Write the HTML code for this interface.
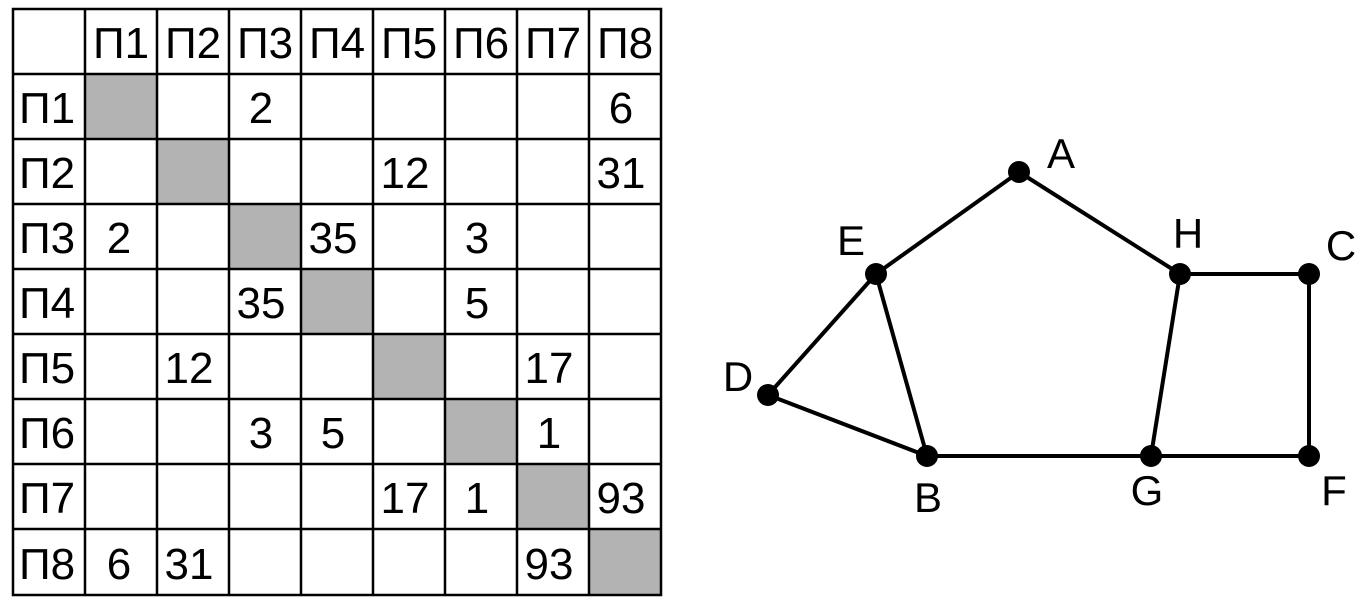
<!DOCTYPE html>
<html><head><meta charset="utf-8"><style>
html,body{margin:0;padding:0;background:#fff;}
body{width:1372px;height:610px;position:relative;overflow:hidden;font-family:"Liberation Sans",sans-serif;}
</style></head><body>
<svg width="1372" height="610" xmlns="http://www.w3.org/2000/svg" style="position:absolute;left:0;top:0">
<g fill="#b3b3b3">
<rect x="85" y="74" width="72" height="65"/>
<rect x="157" y="139" width="72" height="65"/>
<rect x="229" y="204" width="72" height="65"/>
<rect x="301" y="269" width="72" height="65"/>
<rect x="373" y="334" width="72" height="65"/>
<rect x="445" y="399" width="72" height="65"/>
<rect x="517" y="464" width="72" height="65"/>
<rect x="589" y="529" width="72" height="66"/>
</g>
<g stroke="#000" stroke-width="2.5" fill="none">
<rect x="13" y="9" width="648" height="586"/>
<line x1="85" y1="9" x2="85" y2="595"/><line x1="157" y1="9" x2="157" y2="595"/>
<line x1="229" y1="9" x2="229" y2="595"/><line x1="301" y1="9" x2="301" y2="595"/>
<line x1="373" y1="9" x2="373" y2="595"/><line x1="445" y1="9" x2="445" y2="595"/>
<line x1="517" y1="9" x2="517" y2="595"/><line x1="589" y1="9" x2="589" y2="595"/>
<line x1="13" y1="74" x2="661" y2="74"/><line x1="13" y1="139" x2="661" y2="139"/>
<line x1="13" y1="204" x2="661" y2="204"/><line x1="13" y1="269" x2="661" y2="269"/>
<line x1="13" y1="334" x2="661" y2="334"/><line x1="13" y1="399" x2="661" y2="399"/>
<line x1="13" y1="464" x2="661" y2="464"/><line x1="13" y1="529" x2="661" y2="529"/>
</g>
<g font-family="Liberation Sans, sans-serif" font-size="44" text-anchor="middle" fill="#000">
<text x="121" y="58">П1</text><text x="193" y="58">П2</text><text x="265" y="58">П3</text><text x="337" y="58">П4</text>
<text x="409" y="58">П5</text><text x="481" y="58">П6</text><text x="553" y="58">П7</text><text x="625" y="58">П8</text>
<text x="47" y="123">П1</text><text x="47" y="188">П2</text><text x="47" y="253">П3</text><text x="47" y="318">П4</text>
<text x="47" y="383">П5</text><text x="47" y="448">П6</text><text x="47" y="513">П7</text><text x="47" y="579">П8</text>
<text x="261" y="123">2</text><text x="621" y="123">6</text>
<text x="405" y="188">12</text><text x="621" y="188">31</text>
<text x="119" y="253">2</text><text x="333" y="253">35</text><text x="477" y="253">3</text>
<text x="261" y="318">35</text><text x="477" y="318">5</text>
<text x="189" y="383">12</text><text x="549" y="383">17</text>
<text x="261" y="448">3</text><text x="333" y="448">5</text><text x="549" y="448">1</text>
<text x="405" y="513">17</text><text x="477" y="513">1</text><text x="621" y="513">93</text>
<text x="119" y="579">6</text><text x="189" y="579">31</text><text x="549" y="579">93</text>
</g>
<g stroke="#000" stroke-width="4" fill="none">
<line x1="1019" y1="172" x2="876" y2="274"/><line x1="1019" y1="172" x2="1180" y2="274"/>
<line x1="876" y1="274" x2="768" y2="395"/><line x1="876" y1="274" x2="927" y2="456"/>
<line x1="768" y1="395" x2="927" y2="456"/><line x1="927" y1="456" x2="1309" y2="456"/>
<line x1="1180" y1="274" x2="1309" y2="274"/><line x1="1309" y1="274" x2="1309" y2="456"/>
<line x1="1180" y1="274" x2="1151" y2="456"/>
</g>
<g fill="#000">
<circle cx="1019" cy="172" r="11"/><circle cx="876" cy="274" r="11"/><circle cx="1180" cy="274" r="11"/>
<circle cx="1309" cy="274" r="11"/><circle cx="768" cy="395" r="11"/><circle cx="927" cy="456" r="11"/>
<circle cx="1151" cy="456" r="11"/><circle cx="1309" cy="456" r="11"/>
</g>
<g font-family="Liberation Sans, sans-serif" font-size="42" text-anchor="middle" fill="#000">
<text x="1061" y="168">A</text><text x="851" y="255">E</text><text x="1188" y="248">H</text>
<text x="1341" y="260">C</text><text x="738" y="391">D</text><text x="928" y="512">B</text>
<text x="1147" y="505">G</text><text x="1334" y="505">F</text>
</g>
</svg>
</body></html>
